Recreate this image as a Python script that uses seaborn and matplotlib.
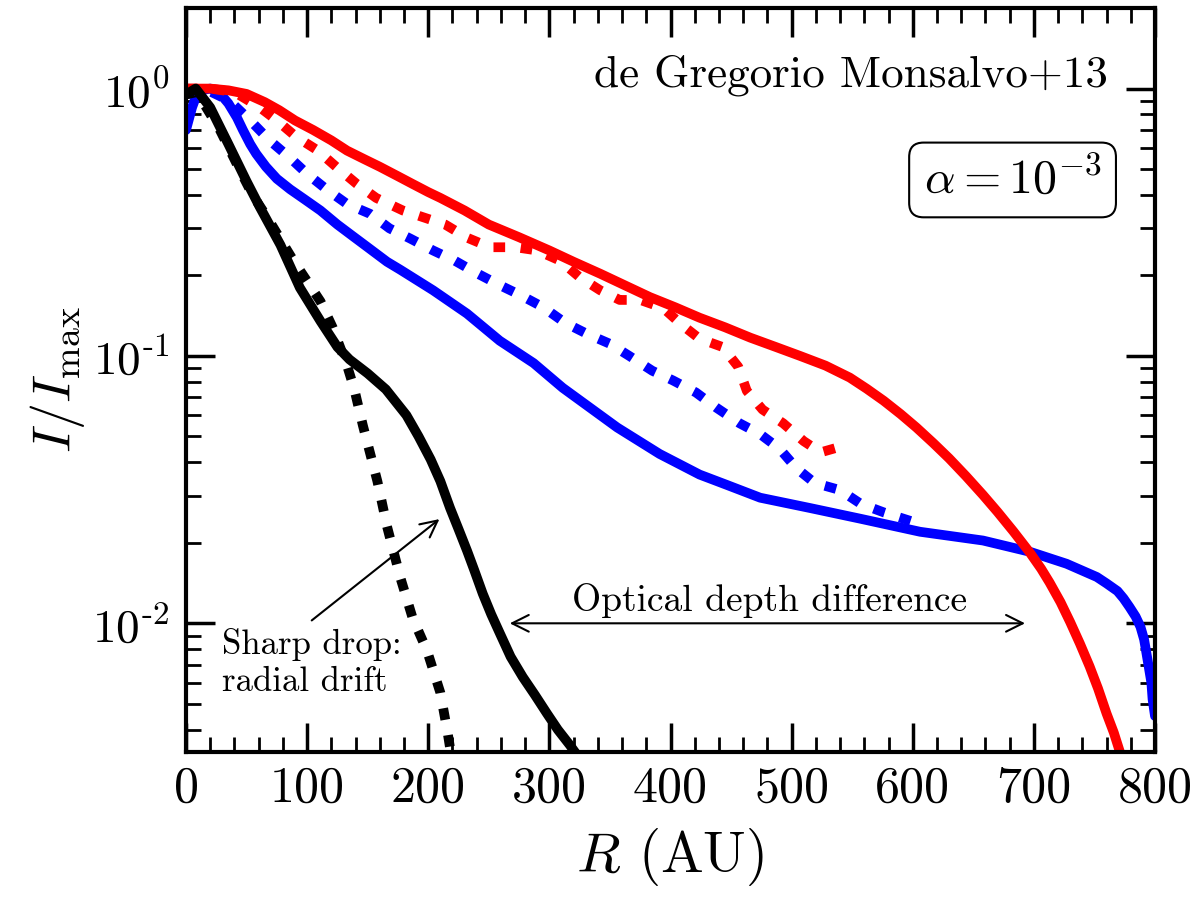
import numpy as np
import pandas as pd
import matplotlib
matplotlib.use("Agg")
import matplotlib.pyplot as plt
from matplotlib.ticker import MultipleLocator, NullFormatter
import seaborn as sns

# Datos (R en AU, intensidad normalizada)
r_black = [0, 8, 20, 35, 50, 61, 78, 94, 111, 125, 135, 150, 165, 182, 192, 202, 210,
           218, 225, 232, 238, 245, 252, 259, 268, 278, 288, 298, 307, 317, 330]
i_black = [0.95, 1.0, 0.85, 0.62, 0.45, 0.36, 0.26, 0.18, 0.135, 0.108, 0.097, 0.086,
           0.075, 0.060, 0.050, 0.041, 0.034, 0.027, 0.0225, 0.0187, 0.0158, 0.0129,
           0.0108, 0.0092, 0.0075, 0.0063, 0.0054, 0.0046, 0.0040, 0.0035, 0.0029]

r_black_dot = [0, 9, 28, 45, 55, 67, 88, 111, 121, 133, 139, 146, 158, 166, 177, 187,
               199, 210, 216, 220]
i_black_dot = [0.95, 0.97, 0.70, 0.49, 0.40, 0.33, 0.23, 0.16, 0.128, 0.092, 0.075, 0.055,
               0.034, 0.023, 0.0148, 0.0105, 0.0079, 0.0055, 0.0039, 0.003]

r_blue = [0, 5, 10, 20, 28, 35, 42, 47, 53, 58, 66, 75, 86, 98, 111, 125, 138, 150, 166,
          177, 204, 232, 259, 287, 311, 356, 391, 424, 446, 474, 515, 557, 606, 658, 697,
          727, 752, 760, 769, 774, 779, 784, 788, 791, 793, 795, 797, 798, 800]
i_blue = [0.70, 0.85, 0.98, 1.0, 0.96, 0.88, 0.78, 0.70, 0.62, 0.57, 0.51, 0.46, 0.42,
          0.385, 0.35, 0.31, 0.28, 0.255, 0.225, 0.21, 0.176, 0.144, 0.114, 0.094, 0.076,
          0.054, 0.043, 0.036, 0.033, 0.0295, 0.027, 0.0246, 0.022, 0.0204, 0.0185, 0.0167,
          0.0149, 0.0141, 0.0132, 0.0124, 0.0115, 0.0106, 0.0097, 0.0087, 0.0077, 0.0068,
          0.006, 0.0052, 0.0045]

r_blue_dot = [0, 15, 36, 53, 69, 86, 100, 116, 133, 152, 168, 185, 204, 222, 240, 259, 277,
              295, 313, 331, 350, 366, 385, 402, 421, 438, 457, 474, 490, 504, 519, 540,
              557, 576, 600]
i_blue_dot = [0.95, 1.0, 0.9, 0.76, 0.64, 0.55, 0.48, 0.42, 0.37, 0.34, 0.30, 0.275, 0.248,
              0.227, 0.204, 0.184, 0.168, 0.152, 0.133, 0.121, 0.111, 0.1, 0.088, 0.081,
              0.073, 0.064, 0.056, 0.051, 0.045, 0.038, 0.0335, 0.0315, 0.028, 0.026, 0.024]

r_red = [0, 20, 35, 50, 65, 77, 90, 105, 120, 133, 147, 160, 175, 187, 200, 210, 230, 250,
         275, 300, 320, 342, 362, 383, 404, 424, 445, 466, 487, 507, 528, 548, 562, 576,
         590, 603, 617, 630, 644, 658, 670, 683, 697, 706, 713, 722, 730, 738, 746, 753,
         760, 766, 772]
i_red = [1.0, 1.0, 0.985, 0.955, 0.89, 0.83, 0.76, 0.70, 0.64, 0.586, 0.545, 0.51, 0.47,
         0.44, 0.41, 0.39, 0.35, 0.31, 0.278, 0.248, 0.225, 0.203, 0.184, 0.166, 0.152,
         0.139, 0.128, 0.117, 0.108, 0.100, 0.092, 0.083, 0.0754, 0.068, 0.0606, 0.054,
         0.0472, 0.0414, 0.0355, 0.0302, 0.0261, 0.0221, 0.0183, 0.016, 0.0142, 0.012,
         0.0101, 0.0084, 0.0069, 0.0057, 0.0046, 0.0039, 0.0032]

r_red_dot = [0, 20, 40, 61, 75, 91, 108, 124, 141, 157, 179, 196, 214, 232, 251, 272, 290,
             309, 325, 342, 358, 375, 394, 410, 424, 443, 456, 463, 476, 493, 510, 524,
             542, 546]
i_red_dot = [1.0, 1.0, 0.97, 0.85, 0.76, 0.66, 0.59, 0.51, 0.44, 0.39, 0.35, 0.33, 0.31,
             0.277, 0.255, 0.255, 0.248, 0.227, 0.197, 0.176, 0.162, 0.162, 0.151, 0.13,
             0.116, 0.108, 0.091, 0.074, 0.063, 0.056, 0.048, 0.0436, 0.046, 0.045]

x_ticks = [0, 100, 200, 300, 400, 500, 600, 700, 800]
y_ticks = [1, 0.1, 0.01]
y_tick_labels = [r'$10^{0}$', r'$10^{\text{-}1}$', r'$10^{\text{-}2}$']

sns.set_style("ticks")
plt.rcParams['font.family'] = 'serif'
plt.rcParams['font.serif'] = ['cmr10', 'DejaVu Serif']
plt.rcParams['mathtext.fontset'] = 'cm'
plt.rcParams['axes.unicode_minus'] = False
for k in ['text.color', 'axes.labelcolor', 'xtick.color', 'ytick.color', 'axes.edgecolor']:
    plt.rcParams[k] = 'black'

fig, ax = plt.subplots(figsize=(12, 9), dpi=100)
fig.subplots_adjust(left=0.155, right=0.9625, top=0.991, bottom=0.1644)

lw = 7
dots = (1.2, 1.6)
sns.lineplot(x=r_blue, y=i_blue, color='#0000ff', lw=lw, ax=ax)
sns.lineplot(x=r_blue_dot, y=i_blue_dot, color='#0000ff', lw=lw, dashes=dots, ax=ax)
sns.lineplot(x=r_red_dot, y=i_red_dot, color='#ff0000', lw=lw, dashes=dots, ax=ax)
sns.lineplot(x=r_red, y=i_red, color='#ff0000', lw=lw, ax=ax)
sns.lineplot(x=r_black_dot, y=i_black_dot, color='black', lw=lw, dashes=dots, ax=ax)
sns.lineplot(x=r_black, y=i_black, color='black', lw=lw, ax=ax)

ax.set_yscale('log')
ax.set_xlim(0, 800)
ax.set_ylim(0.0033, 2.0)
ax.set_xticks(x_ticks)
ax.xaxis.set_minor_locator(MultipleLocator(20))
ax.set_yticks(y_ticks)
ax.set_yticklabels(y_tick_labels)
ax.yaxis.set_minor_formatter(NullFormatter())

ax.tick_params(which='both', direction='in', top=True, right=True)
ax.tick_params(axis='x', labelsize=36, pad=10)
ax.tick_params(axis='y', labelsize=34, pad=12)
ax.tick_params(which='major', length=21, width=2.5)
ax.tick_params(which='minor', length=11, width=2)
for s in ax.spines.values():
    s.set_linewidth(3)

ax.set_xlabel(r'$R$ (AU)', fontsize=41, labelpad=10)
ax.set_ylabel(r'$I/I_{\rm max}$', fontsize=39, labelpad=4)

ax.text(0.951, 0.91, 'de Gregorio Monsalvo+13', transform=ax.transAxes,
        ha='right', va='center', fontsize=32.5)
ax.text(0.853, 0.769, r'$\alpha = 10^{-3}$', transform=ax.transAxes,
        ha='center', va='center', fontsize=34.5,
        bbox=dict(boxstyle='round,pad=0.3', fc='white', ec='black', lw=1.5))

ax.annotate('', xy=(265, 0.01), xytext=(695, 0.01),
            arrowprops=dict(arrowstyle='<->', color='black', lw=1.5, mutation_scale=30))
ax.text(482, 0.0122, 'Optical depth difference', ha='center', va='center', fontsize=27)

ax.annotate('', xy=(211, 0.0249), xytext=(102, 0.0101),
            arrowprops=dict(arrowstyle='->', color='black', lw=1.5, mutation_scale=30))
ax.text(30, 0.0071, 'Sharp drop:\nradial drift', ha='left', va='center', fontsize=25)

plt.savefig("out.png", dpi=100)
